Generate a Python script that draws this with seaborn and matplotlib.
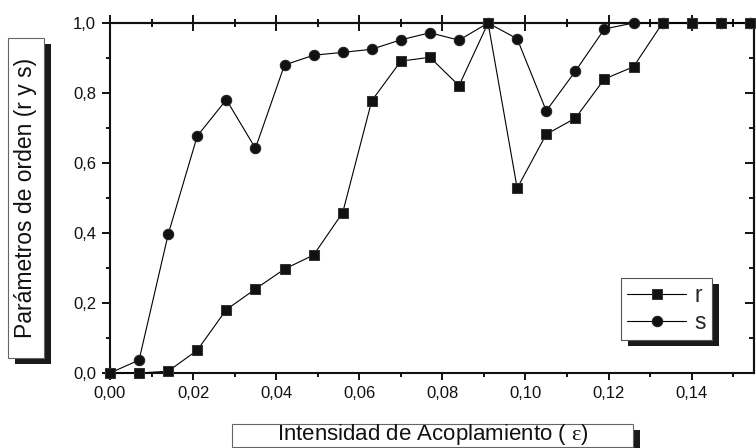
import matplotlib
matplotlib.use("Agg")
import matplotlib.pyplot as plt
from matplotlib.patches import Rectangle
from matplotlib.ticker import MultipleLocator, FuncFormatter
import seaborn as sns
import pandas as pd

# ---- data ----
eps = [0.000, 0.007, 0.014, 0.021, 0.028, 0.035, 0.042, 0.049, 0.056, 0.063,
       0.070, 0.077, 0.084, 0.091, 0.098, 0.105, 0.112, 0.119, 0.126, 0.133,
       0.140, 0.147, 0.154]
r_vals = [0.0, 0.0, 0.005, 0.065, 0.181, 0.240, 0.297, 0.337, 0.458, 0.778,
          0.891, 0.902, 0.821, 1.0, 0.528, 0.682, 0.728, 0.840, 0.875, 1.0,
          1.0, 1.0, 1.0]
s_vals = [0.0, 0.037, 0.396, 0.677, 0.781, 0.642, 0.880, 0.908, 0.916, 0.925,
          0.952, 0.972, 0.951, 1.0, 0.955, 0.749, 0.862, 0.983, 1.0, 1.0,
          1.0, 1.0, 1.0]
series_names = ["r", "s"]
x_label = "Intensidad de Acoplamiento ( $\\mathrm{\\varepsilon}$)"
y_label = "Parámetros de orden (r y s)"

sns.set_style("ticks")
plt.rcParams["font.family"] = ["Liberation Sans", "DejaVu Sans"]
plt.rcParams["mathtext.fontset"] = "custom"
plt.rcParams["mathtext.rm"] = "Liberation Serif"

W, H = 756, 448
fig = plt.figure(figsize=(W / 100, H / 100), dpi=100)
fig.patch.set_facecolor("white")

def fx(px):
    return px / W

def fy(py):
    return 1 - py / H

ax = fig.add_axes([fx(110), fy(373), fx(754) - fx(110), fy(23) - fy(373)])

df_s = pd.DataFrame({"eps": eps, "val": s_vals})
df_r = pd.DataFrame({"eps": eps, "val": r_vals})

sns.lineplot(data=df_s, x="eps", y="val", ax=ax, color="black", lw=0.8,
             marker="o", markersize=7.5, markeredgecolor="#222222",
             markerfacecolor="#111111", label=series_names[1],
             clip_on=False, zorder=4)
sns.lineplot(data=df_r, x="eps", y="val", ax=ax, color="black", lw=0.8,
             marker="s", markersize=7, markeredgecolor="#333333",
             markerfacecolor="#111111", label=series_names[0],
             clip_on=False, zorder=5)

ax.set_xlim(0, 0.155)
ax.set_ylim(0, 1.0)
ax.set_xlabel("")
ax.set_ylabel("")

ax.xaxis.set_major_locator(MultipleLocator(0.02))
ax.xaxis.set_minor_locator(MultipleLocator(0.01))
ax.yaxis.set_major_locator(MultipleLocator(0.2))
ax.yaxis.set_minor_locator(MultipleLocator(0.1))
ax.xaxis.set_major_formatter(FuncFormatter(lambda v, p: f"{v:.2f}".replace(".", ",")))
ax.yaxis.set_major_formatter(FuncFormatter(lambda v, p: f"{v:.1f}".replace(".", ",")))

for sp in ax.spines.values():
    sp.set_visible(True)
    sp.set_linewidth(1.5)
    sp.set_color("#111111")

ax.tick_params(which="both", color="#111111", width=1.4,
               labelsize=12, labelcolor="#111111")
ax.tick_params(axis="x", which="major", bottom=True, direction="out", length=5, pad=4)
ax.tick_params(axis="x", which="minor", direction="out", length=3)
ax.tick_params(axis="y", which="major", direction="out", length=6, pad=4)
ax.tick_params(axis="y", which="minor", direction="out", length=3)
ax.tick_params(top=False, right=False, which="both")

# top ticks cross the axis, right ticks point inward
secx = ax.secondary_xaxis("top")
secx.xaxis.set_major_locator(MultipleLocator(0.02))
secx.xaxis.set_minor_locator(MultipleLocator(0.01))
secx.tick_params(which="major", direction="inout", length=12, width=1.4, color="#111111", labeltop=False)
secx.tick_params(which="minor", direction="inout", length=6, width=1.4, color="#111111")
secx.spines["top"].set_linewidth(1.5)
secy = ax.secondary_yaxis("right")
secy.yaxis.set_major_locator(MultipleLocator(0.2))
secy.yaxis.set_minor_locator(MultipleLocator(0.1))
secy.tick_params(which="major", direction="in", length=6.5, width=1.4, color="#111111", labelright=False)
secy.tick_params(which="minor", direction="in", length=3.5, width=1.4, color="#111111")
secy.spines["right"].set_linewidth(1.5)

# legend
handles, labels = ax.get_legend_handles_labels()
order = [labels.index("r"), labels.index("s")]
leg = ax.legend([handles[i] for i in order], [labels[i] for i in order],
                loc="upper left", bbox_to_anchor=(fx(621), fy(278)),
                bbox_transform=fig.transFigure, borderaxespad=0,
                fontsize=16.5, frameon=True, fancybox=False, framealpha=1,
                edgecolor="#555555", handlelength=2.6, handletextpad=0.35,
                labelspacing=0.2, borderpad=0.25, numpoints=1)
leg.get_frame().set_linewidth(0.8)
leg.set_zorder(10)
fig.canvas.draw()
bb = leg.get_window_extent()
ax.add_patch(Rectangle((fx(bb.x0 + 7), (bb.y0 - 6) / H), bb.width / W, bb.height / H,
                       transform=fig.transFigure, facecolor="#1a1a1a",
                       edgecolor="none", zorder=9, clip_on=False))

# axis label boxes with shadows
def label_box(x0, y0, x1, y1):
    fig.patches.append(Rectangle((fx(x0 + 7), fy(y1 + 6)), fx(x1) - fx(x0), fy(y0) - fy(y1),
                                 transform=fig.transFigure, facecolor="#1a1a1a",
                                 edgecolor="none", zorder=1))
    fig.patches.append(Rectangle((fx(x0), fy(y1)), fx(x1) - fx(x0), fy(y0) - fy(y1),
                                 transform=fig.transFigure, facecolor="white",
                                 edgecolor="#666666", linewidth=0.8, zorder=2))

label_box(8, 38, 44, 358)
label_box(232, 424, 633, 447)
fig.text(fx(26), fy(198), y_label, rotation=90, ha="center", va="center",
         fontsize=16.5, color="#111111")
fig.text(fx(432.5), fy(434.5), x_label, ha="center", va="center",
         fontsize=16, color="#111111")

fig.savefig("out.png", dpi=100, facecolor="white")
